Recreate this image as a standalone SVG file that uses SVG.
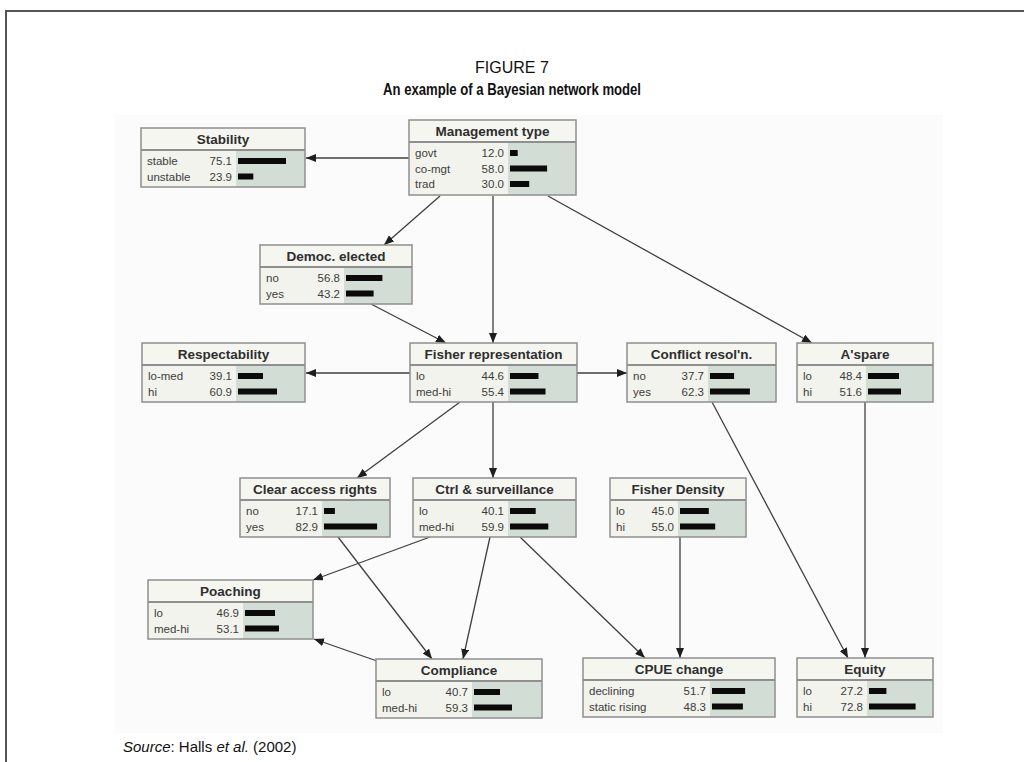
<svg xmlns="http://www.w3.org/2000/svg" width="1024" height="762" viewBox="0 0 1024 762">
  <style>
    .tb { fill: #f6f6f1; }
    .lb { fill: #f3f3ed; }
    .gb { fill: #d2ddd5; }
    .bd { fill: none; stroke: #8f8f8f; stroke-width: 1.5; }
    .sep { stroke: #8f8f8f; stroke-width: 2; }
    .nt { font-family: "Liberation Sans", Arial, sans-serif; font-size: 13.5px; font-weight: bold; fill: #2e2e2e; text-anchor: middle; }
    .st { font-family: "Liberation Sans", Arial, sans-serif; font-size: 11.5px; fill: #3c3c3c; }
    .vl { text-anchor: end; }
    .bar { fill: #0a0a0a; }
    .edge { fill: none; stroke: #3f3f3f; stroke-width: 1.3; marker-end: url(#ah); }
    .cap { font-family: "Liberation Sans", Arial, sans-serif; fill: #111; text-anchor: middle; }
    .src { font-family: "Liberation Sans", Arial, sans-serif; font-size: 15px; fill: #111; }
  </style>
  <defs>
    <marker id="ah" markerUnits="userSpaceOnUse" markerWidth="10" markerHeight="8" refX="10" refY="4" orient="auto">
      <path d="M0,0 L10,4 L0,8 z" fill="#1e1e1e"/>
    </marker>
  </defs>

  <!-- page -->
  <rect x="0" y="0" width="1024" height="762" fill="#ffffff"/>
  <path d="M1024,11 H6 V762" fill="none" stroke="#555" stroke-width="2"/>
  <rect x="115" y="115" width="828" height="618" fill="#fbfbfb"/>

  <!-- caption -->
  <text class="cap" x="512" y="73" font-size="16">FIGURE 7</text>
  <text class="cap" x="512" y="95" font-size="16" font-weight="bold" textLength="258" lengthAdjust="spacingAndGlyphs">An example of a Bayesian network model</text>

  <!-- connectors -->
  <g id="connectors">
    <line class="edge" x1="409" y1="158" x2="306" y2="158"/>
    <line class="edge" x1="440" y1="196" x2="384" y2="245"/>
    <line class="edge" x1="493" y1="196" x2="493" y2="343"/>
    <line class="edge" x1="548" y1="196" x2="812" y2="343"/>
    <line class="edge" x1="371" y1="304" x2="446" y2="343"/>
    <line class="edge" x1="410" y1="373" x2="306" y2="373"/>
    <line class="edge" x1="577" y1="373" x2="627" y2="373"/>
    <line class="edge" x1="460" y1="402" x2="357" y2="478"/>
    <line class="edge" x1="493" y1="402" x2="493" y2="478"/>
    <line class="edge" x1="430" y1="537" x2="313" y2="580"/>
    <line class="edge" x1="490" y1="537" x2="463" y2="659"/>
    <line class="edge" x1="520" y1="537" x2="645" y2="658"/>
    <line class="edge" x1="338" y1="537" x2="432" y2="659"/>
    <line class="edge" x1="377" y1="661" x2="314" y2="639"/>
    <line class="edge" x1="680" y1="537" x2="680" y2="658"/>
    <line class="edge" x1="712" y1="402" x2="848" y2="658"/>
    <line class="edge" x1="865" y1="402" x2="865" y2="658"/>
  </g>

  <g id="stability" transform="translate(141,128)">
    <rect class="tb" width="164" height="22"/>
    <rect class="lb" y="22" width="95" height="37"/>
    <rect class="gb" x="95" y="22" width="69" height="37"/>
    <line class="sep" x1="0" y1="22" x2="164" y2="22"/>
    <rect class="bd" width="164" height="59"/>
    <text class="nt" x="82" y="16">Stability</text>
    <text class="st" x="6" y="37">stable</text><text class="st vl" x="91" y="37">75.1</text><rect class="bar" x="97" y="30" width="48" height="6"/>
    <text class="st" x="6" y="52.5">unstable</text><text class="st vl" x="91" y="52.5">23.9</text><rect class="bar" x="97" y="45.5" width="15.3" height="6"/>
  </g>

  <g id="management-type" transform="translate(409,120)">
    <rect class="tb" width="167" height="22"/>
    <rect class="lb" y="22" width="99" height="53"/>
    <rect class="gb" x="99" y="22" width="68" height="53"/>
    <line class="sep" x1="0" y1="22" x2="167" y2="22"/>
    <rect class="bd" width="167" height="75"/>
    <text class="nt" x="83.5" y="16">Management type</text>
    <text class="st" x="6" y="37">govt</text><text class="st vl" x="95" y="37">12.0</text><rect class="bar" x="101" y="30" width="7.7" height="6"/>
    <text class="st" x="6" y="52.5">co-mgt</text><text class="st vl" x="95" y="52.5">58.0</text><rect class="bar" x="101" y="45.5" width="37.1" height="6"/>
    <text class="st" x="6" y="68">trad</text><text class="st vl" x="95" y="68">30.0</text><rect class="bar" x="101" y="61" width="19.2" height="6"/>
  </g>

  <g id="democ-elected" transform="translate(260,245)">
    <rect class="tb" width="152" height="22"/>
    <rect class="lb" y="22" width="84" height="37"/>
    <rect class="gb" x="84" y="22" width="68" height="37"/>
    <line class="sep" x1="0" y1="22" x2="152" y2="22"/>
    <rect class="bd" width="152" height="59"/>
    <text class="nt" x="76" y="16">Democ. elected</text>
    <text class="st" x="6" y="37">no</text><text class="st vl" x="80" y="37">56.8</text><rect class="bar" x="86" y="30" width="36.4" height="6"/>
    <text class="st" x="6" y="52.5">yes</text><text class="st vl" x="80" y="52.5">43.2</text><rect class="bar" x="86" y="45.5" width="27.6" height="6"/>
  </g>

  <g id="respectability" transform="translate(142,343)">
    <rect class="tb" width="163" height="22"/>
    <rect class="lb" y="22" width="94" height="37"/>
    <rect class="gb" x="94" y="22" width="69" height="37"/>
    <line class="sep" x1="0" y1="22" x2="163" y2="22"/>
    <rect class="bd" width="163" height="59"/>
    <text class="nt" x="81.5" y="16">Respectability</text>
    <text class="st" x="6" y="37">lo-med</text><text class="st vl" x="90" y="37">39.1</text><rect class="bar" x="96" y="30" width="25" height="6"/>
    <text class="st" x="6" y="52.5">hi</text><text class="st vl" x="90" y="52.5">60.9</text><rect class="bar" x="96" y="45.5" width="39" height="6"/>
  </g>

  <g id="fisher-representation" transform="translate(410,343)">
    <rect class="tb" width="167" height="22"/>
    <rect class="lb" y="22" width="98" height="37"/>
    <rect class="gb" x="98" y="22" width="69" height="37"/>
    <line class="sep" x1="0" y1="22" x2="167" y2="22"/>
    <rect class="bd" width="167" height="59"/>
    <text class="nt" x="83.5" y="16">Fisher representation</text>
    <text class="st" x="6" y="37">lo</text><text class="st vl" x="94" y="37">44.6</text><rect class="bar" x="100" y="30" width="28.5" height="6"/>
    <text class="st" x="6" y="52.5">med-hi</text><text class="st vl" x="94" y="52.5">55.4</text><rect class="bar" x="100" y="45.5" width="35.5" height="6"/>
  </g>

  <g id="conflict-resolution" transform="translate(627,343)">
    <rect class="tb" width="149" height="22"/>
    <rect class="lb" y="22" width="81" height="37"/>
    <rect class="gb" x="81" y="22" width="68" height="37"/>
    <line class="sep" x1="0" y1="22" x2="149" y2="22"/>
    <rect class="bd" width="149" height="59"/>
    <text class="nt" x="74.5" y="16">Conflict resol'n.</text>
    <text class="st" x="6" y="37">no</text><text class="st vl" x="77" y="37">37.7</text><rect class="bar" x="83" y="30" width="24.1" height="6"/>
    <text class="st" x="6" y="52.5">yes</text><text class="st vl" x="77" y="52.5">62.3</text><rect class="bar" x="83" y="45.5" width="39.9" height="6"/>
  </g>

  <g id="aspare" transform="translate(797,343)">
    <rect class="tb" width="136" height="22"/>
    <rect class="lb" y="22" width="69" height="37"/>
    <rect class="gb" x="69" y="22" width="67" height="37"/>
    <line class="sep" x1="0" y1="22" x2="136" y2="22"/>
    <rect class="bd" width="136" height="59"/>
    <text class="nt" x="68" y="16">A'spare</text>
    <text class="st" x="6" y="37">lo</text><text class="st vl" x="65" y="37">48.4</text><rect class="bar" x="71" y="30" width="31" height="6"/>
    <text class="st" x="6" y="52.5">hi</text><text class="st vl" x="65" y="52.5">51.6</text><rect class="bar" x="71" y="45.5" width="33" height="6"/>
  </g>

  <g id="clear-access-rights" transform="translate(240,478)">
    <rect class="tb" width="150" height="22"/>
    <rect class="lb" y="22" width="82" height="37"/>
    <rect class="gb" x="82" y="22" width="68" height="37"/>
    <line class="sep" x1="0" y1="22" x2="150" y2="22"/>
    <rect class="bd" width="150" height="59"/>
    <text class="nt" x="75" y="16">Clear access rights</text>
    <text class="st" x="6" y="37">no</text><text class="st vl" x="78" y="37">17.1</text><rect class="bar" x="84" y="30" width="10.9" height="6"/>
    <text class="st" x="6" y="52.5">yes</text><text class="st vl" x="78" y="52.5">82.9</text><rect class="bar" x="84" y="45.5" width="53.1" height="6"/>
  </g>

  <g id="ctrl-surveillance" transform="translate(413,478)">
    <rect class="tb" width="163" height="22"/>
    <rect class="lb" y="22" width="95" height="37"/>
    <rect class="gb" x="95" y="22" width="68" height="37"/>
    <line class="sep" x1="0" y1="22" x2="163" y2="22"/>
    <rect class="bd" width="163" height="59"/>
    <text class="nt" x="81.5" y="16">Ctrl &amp; surveillance</text>
    <text class="st" x="6" y="37">lo</text><text class="st vl" x="91" y="37">40.1</text><rect class="bar" x="97" y="30" width="25.7" height="6"/>
    <text class="st" x="6" y="52.5">med-hi</text><text class="st vl" x="91" y="52.5">59.9</text><rect class="bar" x="97" y="45.5" width="38.3" height="6"/>
  </g>

  <g id="fisher-density" transform="translate(610,478)">
    <rect class="tb" width="136" height="22"/>
    <rect class="lb" y="22" width="68" height="37"/>
    <rect class="gb" x="68" y="22" width="68" height="37"/>
    <line class="sep" x1="0" y1="22" x2="136" y2="22"/>
    <rect class="bd" width="136" height="59"/>
    <text class="nt" x="68" y="16">Fisher Density</text>
    <text class="st" x="6" y="37">lo</text><text class="st vl" x="64" y="37">45.0</text><rect class="bar" x="70" y="30" width="28.8" height="6"/>
    <text class="st" x="6" y="52.5">hi</text><text class="st vl" x="64" y="52.5">55.0</text><rect class="bar" x="70" y="45.5" width="35.2" height="6"/>
  </g>

  <g id="poaching" transform="translate(148,580)">
    <rect class="tb" width="165" height="22"/>
    <rect class="lb" y="22" width="95" height="37"/>
    <rect class="gb" x="95" y="22" width="70" height="37"/>
    <line class="sep" x1="0" y1="22" x2="165" y2="22"/>
    <rect class="bd" width="165" height="59"/>
    <text class="nt" x="82.5" y="16">Poaching</text>
    <text class="st" x="6" y="37">lo</text><text class="st vl" x="91" y="37">46.9</text><rect class="bar" x="97" y="30" width="30" height="6"/>
    <text class="st" x="6" y="52.5">med-hi</text><text class="st vl" x="91" y="52.5">53.1</text><rect class="bar" x="97" y="45.5" width="34" height="6"/>
  </g>

  <g id="compliance" transform="translate(376,659)">
    <rect class="tb" width="166" height="22"/>
    <rect class="lb" y="22" width="96" height="37"/>
    <rect class="gb" x="96" y="22" width="70" height="37"/>
    <line class="sep" x1="0" y1="22" x2="166" y2="22"/>
    <rect class="bd" width="166" height="59"/>
    <text class="nt" x="83" y="16">Compliance</text>
    <text class="st" x="6" y="37">lo</text><text class="st vl" x="92" y="37">40.7</text><rect class="bar" x="98" y="30" width="26" height="6"/>
    <text class="st" x="6" y="52.5">med-hi</text><text class="st vl" x="92" y="52.5">59.3</text><rect class="bar" x="98" y="45.5" width="38" height="6"/>
  </g>

  <g id="cpue-change" transform="translate(583,658)">
    <rect class="tb" width="192" height="22"/>
    <rect class="lb" y="22" width="127" height="37"/>
    <rect class="gb" x="127" y="22" width="65" height="37"/>
    <line class="sep" x1="0" y1="22" x2="192" y2="22"/>
    <rect class="bd" width="192" height="59"/>
    <text class="nt" x="96" y="16">CPUE change</text>
    <text class="st" x="6" y="37">declining</text><text class="st vl" x="123" y="37">51.7</text><rect class="bar" x="129" y="30" width="33.1" height="6"/>
    <text class="st" x="6" y="52.5">static rising</text><text class="st vl" x="123" y="52.5">48.3</text><rect class="bar" x="129" y="45.5" width="30.9" height="6"/>
  </g>

  <g id="equity" transform="translate(797,658)">
    <rect class="tb" width="136" height="22"/>
    <rect class="lb" y="22" width="70" height="37"/>
    <rect class="gb" x="70" y="22" width="66" height="37"/>
    <line class="sep" x1="0" y1="22" x2="136" y2="22"/>
    <rect class="bd" width="136" height="59"/>
    <text class="nt" x="68" y="16">Equity</text>
    <text class="st" x="6" y="37">lo</text><text class="st vl" x="66" y="37">27.2</text><rect class="bar" x="72" y="30" width="17.4" height="6"/>
    <text class="st" x="6" y="52.5">hi</text><text class="st vl" x="66" y="52.5">72.8</text><rect class="bar" x="72" y="45.5" width="46.6" height="6"/>
  </g>

  <!-- source line -->
  <text class="src" x="123" y="752"><tspan font-style="italic">Source</tspan>: Halls <tspan font-style="italic">et al.</tspan> (2002)</text>
</svg>
